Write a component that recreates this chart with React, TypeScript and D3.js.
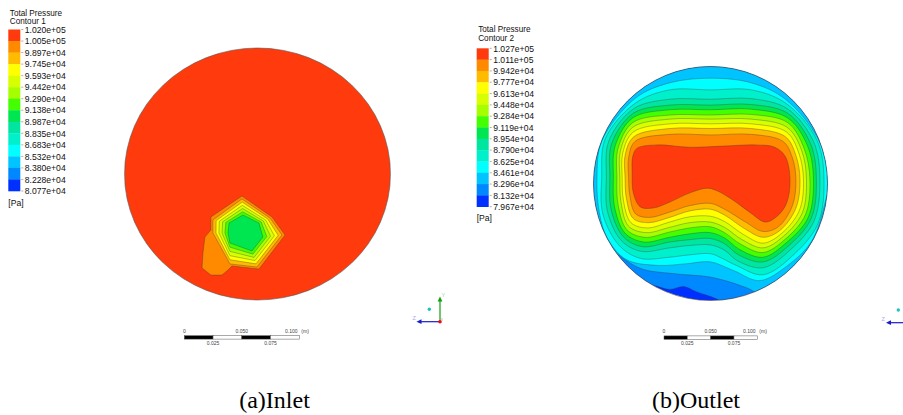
import React from 'react';
import * as d3 from 'd3';

type Pt = [number, number];

// Band colours, top (highest) to bottom (lowest)
const bandColors = [
  '#ff3a0c', '#ff8a00', '#ffbb00', '#ffff00', '#d8ff00', '#a6ff00', '#44ff00',
  '#00e650', '#00e6a0', '#00f0cc', '#00ffff', '#00c4ff', '#0088ff', '#0030ff',
];

const inletLabels = [
  '1.020e+05', '1.005e+05', '9.897e+04', '9.745e+04', '9.593e+04', '9.442e+04', '9.290e+04',
  '9.138e+04', '8.987e+04', '8.835e+04', '8.683e+04', '8.532e+04', '8.380e+04', '8.228e+04', '8.077e+04',
];
const outletLabels = [
  '1.027e+05', '1.011e+05', '9.942e+04', '9.777e+04', '9.613e+04', '9.448e+04', '9.284e+04',
  '9.119e+04', '8.954e+04', '8.790e+04', '8.625e+04', '8.461e+04', '8.296e+04', '8.132e+04', '7.967e+04',
];

// Outlet: closed iso-contours (normalised radius units), index = colour band of region inside
const outletP0: Pt[] = [[-0.665,0.23],[-0.63,0.30],[-0.46,0.33],[-0.175,0.31],[0.11,0.32],[0.39,0.33],[0.55,0.31],[0.64,0.23],[0.68,0.03],[0.65,-0.17],[0.57,-0.28],[0.47,-0.33],[0.34,-0.25],[0.19,-0.14],[0.05,-0.06],[-0.03,-0.04],[-0.175,-0.08],[-0.35,-0.16],[-0.49,-0.21],[-0.60,-0.20],[-0.66,-0.08],[-0.67,0.09]];
const outletP1: Pt[] = [[-0.70,0.05],[-0.70,0.22],[-0.645,0.36],[-0.35,0.42],[0,0.415],[0.35,0.42],[0.62,0.36],[0.70,0.22],[0.73,0.03],[0.70,-0.19],[0.58,-0.37],[0.45,-0.41],[0.30,-0.33],[0.12,-0.22],[0,-0.17],[-0.18,-0.19],[-0.35,-0.245],[-0.52,-0.29],[-0.64,-0.26],[-0.69,-0.10]];
const outletP2: Pt[] = [[-0.73,0.05],[-0.73,0.24],[-0.655,0.40],[-0.35,0.47],[0,0.47],[0.35,0.47],[0.64,0.40],[0.73,0.24],[0.765,0.03],[0.73,-0.21],[0.595,-0.40],[0.45,-0.46],[0.29,-0.385],[0.12,-0.27],[0,-0.22],[-0.18,-0.235],[-0.35,-0.29],[-0.53,-0.335],[-0.66,-0.30],[-0.72,-0.12]];
const outletP3: Pt[] = [[-0.755,0.05],[-0.75,0.26],[-0.66,0.44],[-0.35,0.51],[0,0.51],[0.35,0.51],[0.65,0.44],[0.755,0.26],[0.795,0.03],[0.76,-0.23],[0.61,-0.425],[0.45,-0.51],[0.28,-0.435],[0.12,-0.325],[0,-0.28],[-0.18,-0.285],[-0.35,-0.33],[-0.54,-0.38],[-0.68,-0.335],[-0.745,-0.14]];
const outletP4: Pt[] = [[-0.775,0.05],[-0.77,0.28],[-0.665,0.48],[-0.35,0.55],[0,0.55],[0.35,0.55],[0.655,0.48],[0.78,0.28],[0.82,0.03],[0.785,-0.25],[0.625,-0.45],[0.45,-0.55],[0.27,-0.48],[0.12,-0.375],[0,-0.33],[-0.18,-0.335],[-0.35,-0.375],[-0.55,-0.42],[-0.70,-0.365],[-0.765,-0.16]];
const outletP5: Pt[] = [[-0.80,0.05],[-0.79,0.30],[-0.665,0.52],[-0.35,0.585],[0,0.585],[0.35,0.59],[0.66,0.52],[0.80,0.30],[0.85,0.03],[0.81,-0.27],[0.64,-0.475],[0.45,-0.59],[0.26,-0.52],[0.12,-0.42],[0,-0.37],[-0.18,-0.38],[-0.35,-0.415],[-0.56,-0.46],[-0.715,-0.395],[-0.79,-0.18]];
const outletP6: Pt[] = [[-0.83,0.05],[-0.815,0.32],[-0.665,0.56],[-0.35,0.63],[0,0.63],[0.35,0.635],[0.66,0.56],[0.83,0.32],[0.88,0.03],[0.835,-0.29],[0.655,-0.50],[0.45,-0.63],[0.25,-0.565],[0.12,-0.465],[0,-0.42],[-0.18,-0.43],[-0.35,-0.46],[-0.57,-0.50],[-0.73,-0.425],[-0.82,-0.20]];
const outletP7: Pt[] = [[-0.86,0.05],[-0.845,0.34],[-0.66,0.60],[-0.35,0.67],[0,0.67],[0.35,0.675],[0.66,0.60],[0.855,0.34],[0.905,0.03],[0.86,-0.30],[0.67,-0.53],[0.45,-0.67],[0.24,-0.61],[0.12,-0.515],[0,-0.47],[-0.18,-0.48],[-0.35,-0.50],[-0.58,-0.54],[-0.745,-0.455],[-0.85,-0.22]];
const outletP8: Pt[] = [[-0.89,0.05],[-0.87,0.36],[-0.655,0.64],[-0.35,0.72],[0,0.72],[0.35,0.725],[0.655,0.64],[0.88,0.36],[0.935,0.03],[0.885,-0.32],[0.69,-0.56],[0.45,-0.72],[0.23,-0.66],[0.12,-0.57],[0,-0.525],[-0.18,-0.53],[-0.35,-0.55],[-0.59,-0.58],[-0.76,-0.49],[-0.88,-0.24]];
const outletP9: Pt[] = [[-0.93,0.05],[-0.90,0.38],[-0.645,0.685],[-0.35,0.80],[0,0.80],[0.35,0.80],[0.645,0.685],[0.91,0.37],[0.97,0.03],[0.92,-0.34],[0.72,-0.60],[0.45,-0.78],[0.22,-0.70],[0.10,-0.64],[0,-0.60],[-0.18,-0.61],[-0.35,-0.63],[-0.60,-0.64],[-0.78,-0.53],[-0.92,-0.26]];
const outletP10: Pt[] = [[-0.97,0.05],[-0.93,0.36],[-0.64,0.73],[-0.35,0.86],[0,0.90],[0.35,0.86],[0.64,0.72],[0.92,0.38],[1.01,0.05],[0.97,-0.20],[0.86,-0.50],[0.66,-0.70],[0.42,-0.83],[0.2,-0.745],[0,-0.67],[-0.2,-0.685],[-0.45,-0.70],[-0.72,-0.65],[-0.88,-0.47],[-0.95,-0.25]];
const outletClosed: Pt[][] = [outletP0, outletP1, outletP2, outletP3, outletP4, outletP5, outletP6, outletP7, outletP8, outletP9, outletP10];

// Outlet: contours that leave the disc (inner edge + outer frame)
const outletP11Edge: Pt[] = [[-1.1,-0.42],[-0.86,-0.56],[-0.60,-0.725],[-0.32,-0.77],[0,-0.80],[0.25,-0.87],[0.38,-0.93],[0.5,-1.08]];
const outletP11Frame: Pt[] = [[1.25,-1.25],[1.25,1.25],[-1.25,1.25],[-1.25,-0.42]];
const outletP12Edge: Pt[] = [[-0.62,-0.86],[-0.49,-0.87],[-0.35,-0.905],[-0.23,-0.88],[-0.12,-0.925],[0.05,-0.985],[0.18,-1.06]];
const outletP12Frame: Pt[] = [[1.25,-1.25],[1.25,1.25],[-1.25,1.25],[-1.25,-0.86]];

// Inlet: low-pressure spot, outer to inner, band index 1..7
const inletQ0: Pt[] = [[-0.350,-0.341],[-0.117,-0.175],[0.109,-0.341],[0.207,-0.484],[0.011,-0.754],[-0.192,-0.730],[-0.222,-0.762],[-0.267,-0.802],[-0.350,-0.802],[-0.417,-0.746],[-0.410,-0.627],[-0.395,-0.500],[-0.350,-0.444]];
const inletQ1: Pt[] = [[-0.335,-0.365],[-0.117,-0.198],[0.094,-0.349],[0.184,-0.484],[-0.004,-0.738],[-0.207,-0.714],[-0.335,-0.468]];
const inletQ2: Pt[] = [[-0.311,-0.370],[-0.115,-0.223],[0.077,-0.357],[0.155,-0.487],[-0.011,-0.713],[-0.207,-0.681],[-0.312,-0.468]];
const inletQ3: Pt[] = [[-0.287,-0.375],[-0.114,-0.249],[0.061,-0.365],[0.127,-0.490],[-0.019,-0.687],[-0.207,-0.648],[-0.290,-0.468]];
const inletQ4: Pt[] = [[-0.262,-0.379],[-0.112,-0.274],[0.044,-0.373],[0.098,-0.494],[-0.026,-0.662],[-0.207,-0.614],[-0.267,-0.468]];
const inletQ5: Pt[] = [[-0.238,-0.384],[-0.111,-0.300],[0.028,-0.381],[0.070,-0.497],[-0.034,-0.636],[-0.207,-0.581],[-0.245,-0.468]];
const inletQ6: Pt[] = [[-0.214,-0.389],[-0.109,-0.325],[0.011,-0.389],[0.041,-0.500],[-0.041,-0.611],[-0.207,-0.548],[-0.222,-0.468]];
const inletLayers: Pt[][] = [inletQ0, inletQ1, inletQ2, inletQ3, inletQ4, inletQ5, inletQ6];

const scaleMajor = [0, 0.05, 0.1];
const scaleMajorLabels = ['0', '0.050', '0.100'];
const scaleMinor = [0.025, 0.075];
const scaleMinorLabels = ['0.025', '0.075'];
const scaleSegments = [0, 0.025, 0.05, 0.075, 0.1];
const captions = ['(a)Inlet', '(b)Outlet'];

const SANS = '"Liberation Sans", Arial, sans-serif';

function Legend({ x, titleY, title2, barTop, barH, labels, paY }: any) {
  const y = d3.scaleLinear().domain([0, labels.length - 1]).range([barTop, barTop + barH]);
  const bh = barH / (labels.length - 1);
  return (
    <g fontFamily={SANS} fill="#111">
      <text x={x + 1.5} y={titleY} fontSize={8.2}>Total Pressure</text>
      <text x={x + 1.5} y={titleY + 8.4} fontSize={8.2}>{title2}</text>
      {bandColors.map((c, i) => (
        <rect key={i} x={x} y={y(i)} width={12} height={bh + 0.3} fill={c} />
      ))}
      {labels.map((l: string, i: number) => (
        <g key={l}>
          <line x1={x + 13} x2={x + 15} y1={y(i)} y2={y(i)} stroke="#777" strokeWidth={0.6} />
          <text x={x + 16.5} y={y(i) + 3.2} fontSize={8.6}>{l}</text>
        </g>
      ))}
      <text x={x} y={paY} fontSize={8.6}>[Pa]</text>
    </g>
  );
}

function ScaleBar({ x0, x1, y }: any) {
  const s = d3.scaleLinear().domain([0, 0.1]).range([x0, x1]);
  return (
    <g fontFamily={SANS} fontSize={5} fill="#444">
      {scaleSegments.slice(0, -1).map((v, i) => (
        <rect key={i} x={s(v)} y={y} width={s(scaleSegments[i + 1]) - s(v)} height={3.4}
          fill={i % 2 === 0 ? '#000' : '#fff'} stroke="#555" strokeWidth={0.5} />
      ))}
      {scaleMajor.map((v, i) => (
        <text key={v} x={i === 2 ? s(v) - 8 : s(v)} y={y - 3} textAnchor="middle">{scaleMajorLabels[i]}</text>
      ))}
      <text x={s(0.1) + 2} y={y - 3}>(m)</text>
      {scaleMinor.map((v, i) => (
        <text key={v} x={s(v)} y={y + 9.5} textAnchor="middle">{scaleMinorLabels[i]}</text>
      ))}
    </g>
  );
}

export default function App() {
  const outCx = 710.5, outCy = 183.5, outR = 117;
  const xO = d3.scaleLinear().domain([-1, 1]).range([outCx - outR, outCx + outR]);
  const yO = d3.scaleLinear().domain([-1, 1]).range([outCy + outR, outCy - outR]);
  const inCx = 257.5, inCy = 174, inRx = 133, inRy = 126;
  const xI = d3.scaleLinear().domain([-1, 1]).range([inCx - inRx, inCx + inRx]);
  const yI = d3.scaleLinear().domain([-1, 1]).range([inCy + inRy, inCy - inRy]);

  const smoothClosed = d3.line<Pt>().x(d => xO(d[0])).y(d => yO(d[1])).curve(d3.curveCatmullRomClosed.alpha(0.5));
  const smoothOpen = d3.line<Pt>().x(d => xO(d[0])).y(d => yO(d[1])).curve(d3.curveCatmullRom.alpha(0.5));
  const edgePath = (edge: Pt[], frame: Pt[]) =>
    (smoothOpen(edge) || '') + frame.map(p => `L${xO(p[0])},${yO(p[1])}`).join('') + 'Z';
  const inletLine = d3.line<Pt>().x(d => xI(d[0])).y(d => yI(d[1])).curve(d3.curveLinearClosed);

  const lineStroke = { stroke: '#3a3a3a', strokeWidth: 0.45, strokeOpacity: 0.75 };

  return (
    <svg width={903} height={415} style={{ position: 'absolute', left: 0, top: 0, background: '#fff' }}>
      <defs>
        <clipPath id="outClip"><circle cx={outCx} cy={outCy} r={outR} /></clipPath>
        <clipPath id="inClip"><ellipse cx={inCx} cy={inCy} rx={inRx} ry={inRy} /></clipPath>
      </defs>

      {/* Inlet */}
      <g clipPath="url(#inClip)">
        <rect x={inCx - inRx} y={inCy - inRy} width={2 * inRx} height={2 * inRy} fill={bandColors[0]} />
        {inletLayers.map((poly, i) => (
          <path key={i} d={inletLine(poly) || ''} fill={bandColors[i + 1]} {...lineStroke} />
        ))}
      </g>
      <ellipse cx={inCx} cy={inCy} rx={inRx} ry={inRy} fill="none" stroke="#555" strokeWidth={0.6} />

      {/* Outlet */}
      <g clipPath="url(#outClip)">
        <circle cx={outCx} cy={outCy} r={outR} fill={bandColors[13]} />
        <path d={edgePath(outletP12Edge, outletP12Frame)} fill={bandColors[12]} {...lineStroke} />
        <path d={edgePath(outletP11Edge, outletP11Frame)} fill={bandColors[11]} {...lineStroke} />
        {outletClosed.slice().reverse().map((poly, k) => {
          const idx = outletClosed.length - 1 - k;
          return <path key={idx} d={smoothClosed(poly) || ''} fill={bandColors[idx]} {...lineStroke} />;
        })}
      </g>
      <circle cx={outCx} cy={outCy} r={outR} fill="none" stroke="#445" strokeWidth={0.7} />

      {/* Legends */}
      <Legend x={8.3} titleY={15.6} title2="Contour 1" barTop={29.5} barH={161.5} labels={inletLabels} paY={205.5} />
      <Legend x={476.7} titleY={32.4} title2="Contour 2" barTop={48.3} barH={158.4} labels={outletLabels} paY={221} />

      {/* Scale bars */}
      <ScaleBar x0={184.3} x1={299.3} y={335.7} />
      <ScaleBar x0={664} x1={757.3} y={335.9} />

      {/* Axis triad inlet */}
      <g>
        <line x1={440} y1={321.7} x2={440} y2={300} stroke="#10a010" strokeWidth={1.2} />
        <path d="M437.6,301.5 L440,296.5 L442.4,301.5 Z" fill="#10a010" />
        <text x={441.5} y={297} fontSize={5.5} fill="#9ad89a" fontFamily={SANS}>Y</text>
        <line x1={440} y1={321.7} x2={420} y2={321.7} stroke="#1a1acc" strokeWidth={1.2} />
        <path d="M421.5,319.3 L416.5,321.7 L421.5,324.1 Z" fill="#1a1acc" />
        <text x={412.5} y={320} fontSize={5.5} fill="#a8a8ee" fontFamily={SANS}>Z</text>
        <circle cx={440} cy={321.7} r={1.8} fill="#e01010" />
        <text x={440.5} y={321} fontSize={4} fill="#ff8080" fontFamily={SANS}>X</text>
        <circle cx={429.3} cy={309.3} r={1.7} fill="#20c0c8" />
      </g>
      {/* Axis triad outlet */}
      <g>
        <line x1={903} y1={322.7} x2={889.5} y2={322.7} stroke="#1a1acc" strokeWidth={1.2} />
        <path d="M891,320.3 L886,322.7 L891,325.1 Z" fill="#1a1acc" />
        <text x={881.5} y={321} fontSize={5.5} fill="#a8a8ee" fontFamily={SANS}>Z</text>
        <circle cx={898.3} cy={310} r={1.7} fill="#20c0c8" />
      </g>

      {/* Captions */}
      <text x={274.5} y={408} textAnchor="middle" fontSize={24} fontFamily='"Liberation Serif", "Times New Roman", serif' fill="#000">{captions[0]}</text>
      <text x={696} y={408} textAnchor="middle" fontSize={24} fontFamily='"Liberation Serif", "Times New Roman", serif' fill="#000">{captions[1]}</text>
    </svg>
  );
}
